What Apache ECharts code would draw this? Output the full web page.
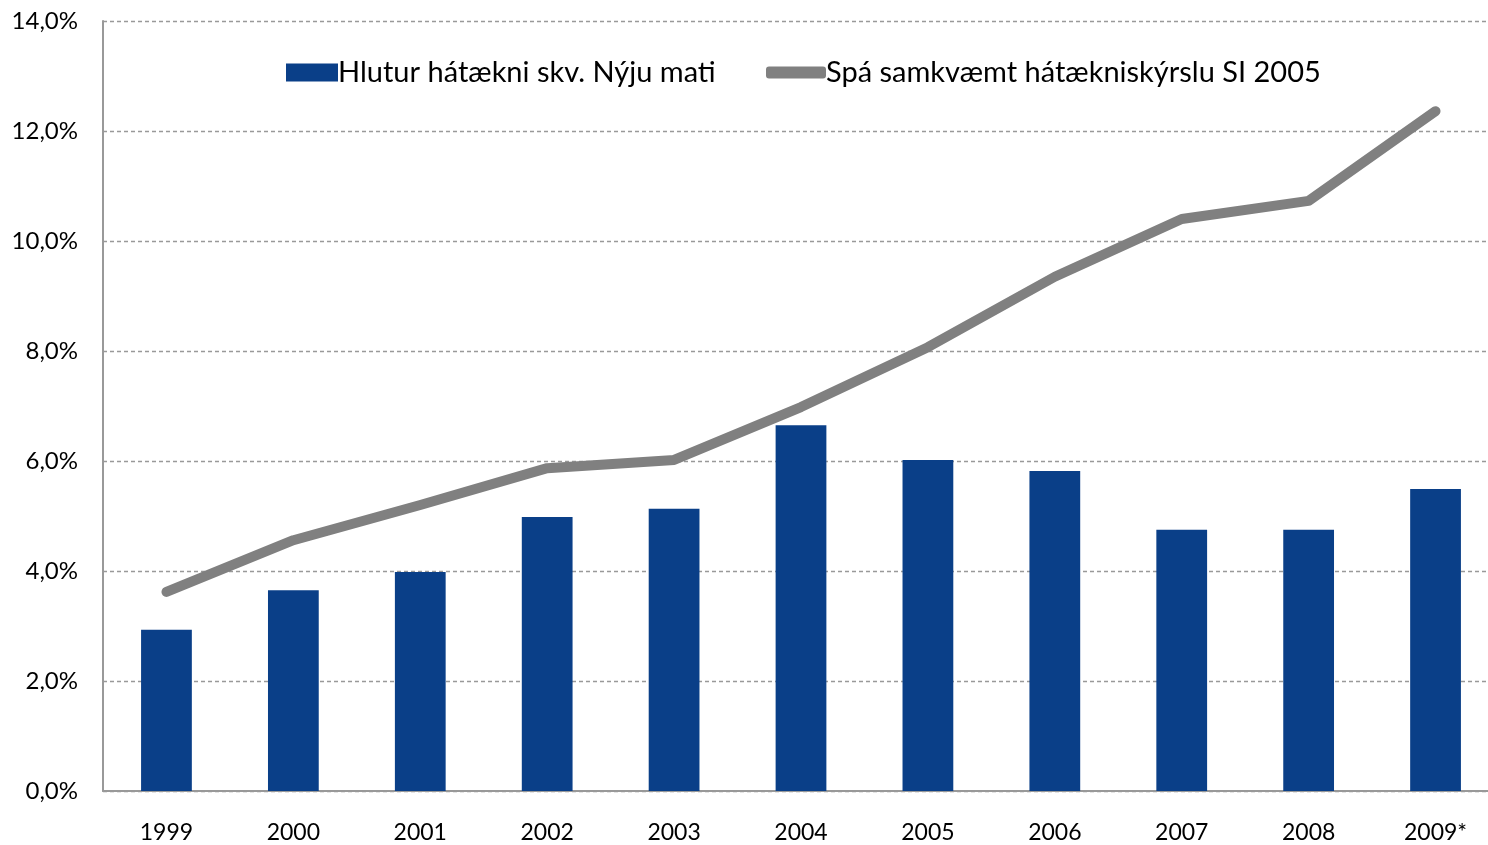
<!DOCTYPE html>
<html>
<head>
<meta charset="utf-8">
<script src="https://cdn.jsdelivr.net/npm/echarts@6/dist/echarts.min.js"></script>
<style>
  html, body { margin: 0; padding: 0; background: #fff; overflow: hidden; }
  #chart { width: 1500px; height: 845px; }
</style>
</head>
<body>
<div id="chart"></div>
<script>
const years = ['1999', '2000', '2001', '2002', '2003', '2004', '2005', '2006', '2007', '2008', '2009*']
const hlutur = [2.93, 3.65, 3.98, 4.98, 5.13, 6.65, 6.02, 5.82, 4.75, 4.75, 5.49]
const spa = [3.62, 4.56, 5.2, 5.87, 6.02, 6.98, 8.07, 9.35, 10.4, 10.73, 12.36]
const barName = 'Hlutur hátækni skv. Nýju mati'
const lineName = 'Spá samkvæmt hátækniskýrslu SI 2005'

const fmt = v => v.toFixed(1).replace('.', ',') + '%'
const font = 'Lato, "Open Sans", sans-serif'

// chart div is a bit wider than the window so the last category sits where it should
const myChart = echarts.init(document.getElementById('chart'))
const option = {
  animation: false,
  textStyle: { fontFamily: font },
  grid: { left: 103, top: 21, right: 1, bottom: 54, containLabel: false },
  legend: [
    {
      data: [barName],
      left: 281, top: 53,
      itemWidth: 52, itemHeight: 18, itemGap: 6,
      icon: 'rect',
      textStyle: { fontSize: 29, color: '#000', fontFamily: font, padding: [0, 0, 0, -5] }
    },
    {
      data: [lineName],
      left: 761, top: 53,
      itemWidth: 60, itemHeight: 12,
      icon: 'roundRect',
      textStyle: { fontSize: 29, color: '#000', fontFamily: font, padding: [0, 0, 0, -5] }
    }
  ],
  xAxis: {
    type: 'category',
    data: years,
    axisLine: { lineStyle: { color: '#999', width: 2 } },
    axisTick: { show: false },
    axisLabel: { fontSize: 23, color: '#000', margin: 30, fontFamily: font }
  },
  yAxis: {
    type: 'value',
    min: 0, max: 14, interval: 2,
    axisLine: { show: true, lineStyle: { color: '#999', width: 2 } },
    axisTick: { show: false },
    axisLabel: { fontSize: 24, color: '#000', margin: 25, formatter: fmt, fontFamily: font },
    splitLine: { lineStyle: { color: '#999', type: [4, 3], width: 1.3 } }
  },
  series: [
    {
      name: barName,
      type: 'bar',
      data: hlutur,
      barWidth: '40%',
      itemStyle: { color: '#0a3f88' }
    },
    {
      name: lineName,
      type: 'line',
      data: spa,
      symbol: 'none',
      z: 5,
      itemStyle: { color: '#808080' },
      lineStyle: { color: '#808080', width: 10, cap: 'round', join: 'round' }
    }
  ]
}
option && myChart.setOption(option)
</script>
</body>
</html>
